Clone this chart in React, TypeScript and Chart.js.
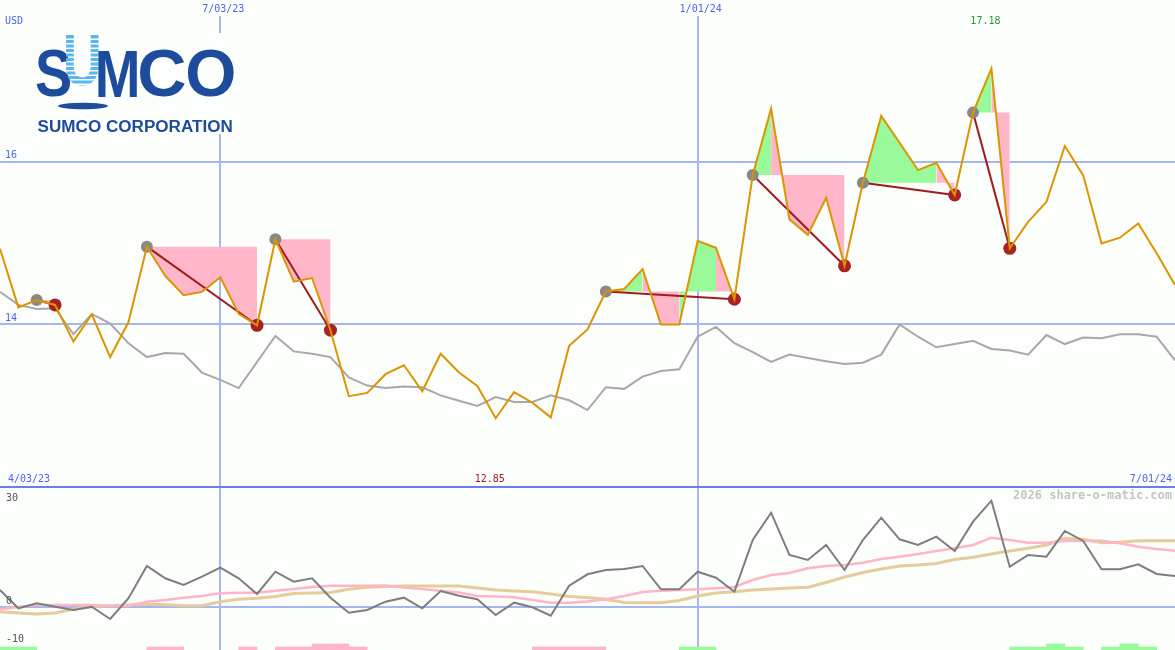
import React, { useEffect, useRef } from "react";
import { Chart, registerables } from "chart.js";

Chart.register(...registerables);

// ---------- data (weekly, index 0 = first week shown) ----------
const PRICE = [
  14.93, 14.21, 14.3, 14.24, 13.79, 14.125, 13.6, 14.03, 14.955, 14.595,
  14.36, 14.4, 14.58, 14.13, 13.99, 15.045, 14.525, 14.57, 13.93, 13.12,
  13.16, 13.39, 13.5, 13.18, 13.64, 13.41, 13.245, 12.85, 13.17, 13.04,
  12.86, 13.74, 13.94, 14.405, 14.435, 14.68, 14.0, 14.0, 15.025, 14.94,
  14.31, 15.835, 16.65, 15.29, 15.1, 15.555, 14.72, 15.74, 16.56, 16.23,
  15.895, 15.985, 15.59, 16.6, 17.14, 14.935, 15.26, 15.505, 16.19, 15.83,
  14.995, 15.065, 15.24, 14.875, 14.485,
];

const INDEX_LINE = [
  14.4, 14.24, 14.19, 14.2, 13.88, 14.13, 14.01, 13.77, 13.6, 13.65,
  13.64, 13.41, 13.32, 13.22, 13.54, 13.86, 13.67, 13.64, 13.6, 13.35,
  13.25, 13.22, 13.24, 13.23, 13.13, 13.065, 13.0, 13.11, 13.05, 13.05,
  13.13, 13.07, 12.95, 13.23, 13.21, 13.36, 13.43, 13.45, 13.85, 13.97,
  13.77, 13.66, 13.54, 13.63, 13.59, 13.55, 13.515, 13.53, 13.63, 14.0,
  13.85, 13.72, 13.76, 13.8, 13.7, 13.68, 13.63, 13.87, 13.76, 13.84,
  13.83, 13.88, 13.88, 13.85, 13.56,
];

const MOMENTUM = [
  4.55, -0.26, 1.05, 0.16, -0.71, 0.16, -3.08, 2.37, 10.87, 7.63,
  5.87, 8.05, 10.42, 7.63, 3.5, 9.37, 6.74, 7.63, 2.53, -1.42,
  -0.71, 1.47, 2.53, -0.26, 4.29, 3.05, 2.11, -2.03, 1.21, 0.0,
  -2.21, 5.68, 8.68, 9.82, 10.08, 10.87, 4.74, 4.74, 9.37, 7.79,
  4.11, 17.71, 24.89, 13.76, 12.45, 16.39, 9.82, 17.71, 23.58, 17.89,
  16.39, 18.58, 14.82, 22.53, 28.05, 10.68, 13.76, 13.32, 20.08, 17.45,
  10.0, 10.0, 11.32, 8.76, 8.24,
];

const MA_FAST = [
  -0.53, 0.08, 0.61, 0.61, 0.61, 0.61, 0.34, 0.34, 1.47, 1.92,
  2.53, 2.97, 3.68, 3.84, 3.84, 4.37, 4.82, 5.34, 5.68, 5.68,
  5.68, 5.74, 5.21, 4.82, 4.37, 3.89, 2.97, 2.84, 2.63, 1.92,
  1.21, 1.21, 1.53, 2.11, 2.97, 4.03, 4.37, 4.55, 4.74, 5.0,
  5.34, 7.18, 8.5, 9.03, 10.26, 10.87, 11.13, 11.74, 12.71, 13.32,
  14.03, 14.82, 15.53, 16.39, 18.32, 17.71, 17.0, 17.0, 17.45, 17.53,
  17.53, 16.84, 15.95, 15.34, 14.89,
];

const MA_SLOW = [
  -1.16, -1.5, -1.76, -1.5, -0.53, 0.16, 0.42, 0.61, 0.79, 0.68,
  0.42, 0.42, 1.47, 2.11, 2.37, 2.84, 3.63, 3.76, 3.89, 4.74,
  5.26, 5.47, 5.61, 5.61, 5.61, 5.61, 5.08, 4.55, 4.29, 4.11,
  3.5, 2.84, 2.58, 2.11, 1.26, 1.21, 1.21, 1.79, 2.97, 3.76,
  4.11, 4.55, 4.82, 5.08, 5.26, 6.53, 7.97, 9.16, 10.08, 10.87,
  11.13, 11.53, 12.58, 13.16, 14.03, 14.82, 15.53, 16.39, 18.16, 17.89,
  17.0, 17.11, 17.53, 17.53, 17.53,
];

// one entry per week-to-week interval: +n green, -n pink
const BAR_SIGNAL = [
  1, 1, 0, 0, 0, 0, 0, 0, -1, -1,
  0, 0, 0, -1, 0, -1, -1, -2, -2, -1,
  0, 0, 0, 0, 0, 0, 0, 0, 0, -1,
  -1, -1, -1, 0, 0, 0, 0, 1, 1, 0,
  0, 0, 0, 0, 0, 0, 0, 0, 0, 0,
  0, 0, 0, 0, 0, 1, 1, 2, 1, 0,
  1, 2, 1, 0,
];

const ENTRY_IDX = [2, 8, 15, 33, 41, 47, 53];
const EXIT_IDX = [3, 14, 18, 40, 46, 52, 55];

const GRID_WEEKS = [12, 38];
const GRID_LABELS = ["7/03/23", "1/01/24"];
const PRICE_GRID = [14, 16];
const OSC_GRID = [0];
const OSC_TICKS = [30, 0, -10];
const START_LABEL = "4/03/23";
const END_LABEL = "7/01/24";
const HIGH_LABEL = "17.18";
const LOW_LABEL = "12.85";
const CURRENCY = "USD";
const COMPANY = "SUMCO CORPORATION";
const WATERMARK = "2026 share-o-matic.com";

// ---------- layout / style ----------
const W = 1175;
const TOP_H = 486;
const BOT_H = 164;
const TOP_MIN = 12.018;
const TOP_MAX = 17.982;
const BOT_MIN = -11.24;
const BOT_MAX = 31.92;
const BAR_UNIT = 0.8;

const BG = "#fcfefc";
const GRID = "#a6b6f0";
const SEP = "#6c7ce8";
const BLUE_TXT = "#4f62f0";
const ORANGE = "#dc9400";
const GRAY_IDX = "#a8a8a8";
const GREEN_FILL = "#98fa98";
const PINK_FILL = "#ffb6c8";
const TRADE = "#a01a1e";
const RED_DOT = "#a82222";
const GRAY_DOT = "#888888";
const LOGO_BLUE = "#1d4c9c";
const LOGO_LIGHT = "#5ab6ee";
const MONO = "'DejaVu Sans Mono', monospace";
const LOGO_FONT = "'Liberation Sans', Arial, sans-serif";

const pts = (arr: number[]) => arr.map((v, i) => ({ x: i, y: v }));

function buildFills() {
  const out: any[] = [];
  ENTRY_IDX.forEach((en, t) => {
    const ex = EXIT_IDX[t];
    const level = PRICE[en];
    const push = (s: number, e: number, color: string) => {
      const data = [];
      for (let i = s; i <= e; i++) data.push({ x: i, y: PRICE[i] });
      out.push({
        type: "line",
        data,
        fill: { value: level },
        backgroundColor: color,
        borderColor: "rgba(0,0,0,0)",
        borderWidth: 0,
        pointRadius: 0,
        order: 10,
      });
    };
    let runStart = en;
    let runColor: string | null = null;
    for (let j = en; j < ex; j++) {
      const c = PRICE[j + 1] >= level ? GREEN_FILL : PINK_FILL;
      if (runColor === null) runColor = c;
      else if (c !== runColor) {
        push(runStart, j, runColor);
        runStart = j;
        runColor = c;
      }
    }
    push(runStart, ex, runColor as string);
  });
  return out;
}

function fitGlyph(ctx: CanvasRenderingContext2D, text: string, x0: number, y0: number, x1: number, y1: number) {
  const m = ctx.measureText(text);
  const gw = m.actualBoundingBoxLeft + m.actualBoundingBoxRight;
  const gh = m.actualBoundingBoxAscent + m.actualBoundingBoxDescent;
  ctx.save();
  ctx.translate(x0, y0);
  ctx.scale((x1 - x0) / gw, (y1 - y0) / gh);
  ctx.fillText(text, m.actualBoundingBoxLeft, m.actualBoundingBoxAscent);
  ctx.restore();
}

function drawLogo(ctx: CanvasRenderingContext2D) {
  ctx.save();
  ctx.fillStyle = BG;
  ctx.fillRect(22, 33, 226, 101);
  ctx.textAlign = "left";
  ctx.textBaseline = "alphabetic";
  ctx.font = `bold 100px ${LOGO_FONT}`;
  ctx.fillStyle = LOGO_BLUE;
  fitGlyph(ctx, "S", 36, 50, 70, 97);

  // striped light-blue U, drawn on its own layer
  const off = document.createElement("canvas");
  off.width = 40;
  off.height = 56;
  const o = off.getContext("2d") as CanvasRenderingContext2D;
  o.textAlign = "left";
  o.textBaseline = "alphabetic";
  o.font = `bold 100px ${LOGO_FONT}`;
  o.fillStyle = LOGO_LIGHT;
  fitGlyph(o, "U", 2, 2, 35, 53);
  o.globalCompositeOperation = "destination-out";
  for (let y = 5.5; y < 54; y += 4.5) o.fillRect(0, y, 40, 1.5);
  ctx.drawImage(off, 64, 33);

  ctx.fillStyle = LOGO_BLUE;
  fitGlyph(ctx, "M", 98, 50, 137, 97);
  fitGlyph(ctx, "C", 140, 50, 185, 97);
  fitGlyph(ctx, "O", 188, 50, 234, 97);
  ctx.beginPath();
  ctx.ellipse(83, 106, 25, 3.2, 0, 0, Math.PI * 2);
  ctx.fill();
  ctx.font = `bold 40px ${LOGO_FONT}`;
  fitGlyph(ctx, COMPANY, 38, 121, 232, 132);
  ctx.restore();
}

const topDecor = {
  id: "topDecor",
  beforeDatasetsDraw(chart: any) {
    const { ctx, scales } = chart;
    const x = scales.x;
    const y = scales.y;
    ctx.save();
    ctx.strokeStyle = GRID;
    ctx.lineWidth = 2;
    PRICE_GRID.forEach((v) => {
      const py = Math.round(y.getPixelForValue(v));
      ctx.beginPath();
      ctx.moveTo(0, py);
      ctx.lineTo(W, py);
      ctx.stroke();
    });
    GRID_WEEKS.forEach((w) => {
      const px = Math.round(x.getPixelForValue(w));
      ctx.beginPath();
      ctx.moveTo(px, 16);
      ctx.lineTo(px, TOP_H);
      ctx.stroke();
    });
    ctx.restore();
  },
  afterDraw(chart: any) {
    const { ctx, scales } = chart;
    const x = scales.x;
    const y = scales.y;
    ctx.save();
    drawLogo(ctx);
    ctx.font = `10px ${MONO}`;
    ctx.fillStyle = BLUE_TXT;
    ctx.textAlign = "left";
    ctx.textBaseline = "top";
    ctx.fillText(CURRENCY, 5, 16);
    ctx.textBaseline = "bottom";
    PRICE_GRID.forEach((v) => {
      ctx.fillText(String(v), 5, y.getPixelForValue(v) - 1);
    });
    ctx.textAlign = "center";
    ctx.textBaseline = "top";
    GRID_WEEKS.forEach((w, k) => {
      ctx.fillText(GRID_LABELS[k], x.getPixelForValue(w) + 3, 4);
    });
    ctx.textBaseline = "bottom";
    ctx.textAlign = "left";
    ctx.fillText(START_LABEL, 8, 484);
    ctx.textAlign = "right";
    ctx.fillText(END_LABEL, 1172, 484);
    const maxI = PRICE.indexOf(Math.max(...PRICE));
    const minI = PRICE.indexOf(Math.min(...PRICE));
    ctx.textAlign = "center";
    ctx.fillStyle = "#a01c1c";
    ctx.fillText(LOW_LABEL, x.getPixelForValue(minI) - 6, 484);
    ctx.fillStyle = "#2a982a";
    ctx.textBaseline = "top";
    ctx.fillText(HIGH_LABEL, x.getPixelForValue(maxI) - 6, 16);
    ctx.restore();
  },
};

const botDecor = {
  id: "botDecor",
  beforeDatasetsDraw(chart: any) {
    const { ctx, scales } = chart;
    const x = scales.x;
    const y = scales.y;
    ctx.save();
    ctx.strokeStyle = GRID;
    ctx.lineWidth = 2;
    OSC_GRID.forEach((v) => {
      const py = Math.round(y.getPixelForValue(v));
      ctx.beginPath();
      ctx.moveTo(0, py);
      ctx.lineTo(W, py);
      ctx.stroke();
    });
    GRID_WEEKS.forEach((w) => {
      const px = Math.round(x.getPixelForValue(w));
      ctx.beginPath();
      ctx.moveTo(px, 0);
      ctx.lineTo(px, BOT_H);
      ctx.stroke();
    });
    ctx.restore();
  },
  afterDraw(chart: any) {
    const { ctx, scales } = chart;
    const y = scales.y;
    ctx.save();
    ctx.strokeStyle = SEP;
    ctx.lineWidth = 2;
    ctx.beginPath();
    ctx.moveTo(0, 1);
    ctx.lineTo(W, 1);
    ctx.stroke();
    ctx.font = `10px ${MONO}`;
    ctx.fillStyle = "#555555";
    ctx.textAlign = "left";
    OSC_TICKS.forEach((v, k) => {
      const py = y.getPixelForValue(v);
      if (k === 0) {
        ctx.textBaseline = "top";
        ctx.fillText(String(v), 6, py);
      } else {
        ctx.textBaseline = "bottom";
        ctx.fillText(String(v), 6, py - 1);
      }
    });
    ctx.font = `bold 12px ${MONO}`;
    ctx.fillStyle = "#c4c4c4";
    ctx.textAlign = "right";
    ctx.textBaseline = "middle";
    ctx.fillText(WATERMARK, 1172, 10);
    ctx.restore();
  },
};

export default function App() {
  const topRef = useRef<HTMLCanvasElement | null>(null);
  const botRef = useRef<HTMLCanvasElement | null>(null);

  useEffect(() => {
    const common: any = {
      responsive: false,
      maintainAspectRatio: false,
      animation: false,
      events: [],
      layout: { padding: 0, autoPadding: false },
      plugins: { legend: { display: false }, tooltip: { enabled: false } },
    };

    const tradeLines = ENTRY_IDX.map((en, t) => ({
      type: "line",
      data: [
        { x: en, y: PRICE[en] },
        { x: EXIT_IDX[t], y: PRICE[EXIT_IDX[t]] },
      ],
      borderColor: TRADE,
      borderWidth: 2,
      pointRadius: 0,
      fill: false,
      order: 3,
    }));

    const top = new Chart(topRef.current as HTMLCanvasElement, {
      type: "line",
      data: {
        datasets: [
          { data: pts(PRICE), borderColor: ORANGE, borderWidth: 2, pointRadius: 0, fill: false, order: 0 },
          {
            data: EXIT_IDX.map((i) => ({ x: i, y: PRICE[i] })),
            showLine: false,
            pointRadius: 6.5,
            pointBackgroundColor: RED_DOT,
            pointBorderWidth: 0,
            order: 1,
          },
          {
            data: ENTRY_IDX.map((i) => ({ x: i, y: PRICE[i] })),
            showLine: false,
            pointRadius: 6,
            pointBackgroundColor: GRAY_DOT,
            pointBorderWidth: 0,
            order: 2,
          },
          ...tradeLines,
          { data: pts(INDEX_LINE), borderColor: GRAY_IDX, borderWidth: 2, pointRadius: 0, fill: false, order: 5 },
          ...buildFills(),
        ] as any,
      },
      options: {
        ...common,
        scales: {
          x: { type: "linear", min: 0, max: PRICE.length - 1, offset: false, display: false },
          y: { type: "linear", min: TOP_MIN, max: TOP_MAX, display: false },
        },
      },
      plugins: [topDecor],
    } as any);

    const greenBars: any[] = [];
    const pinkBars: any[] = [];
    BAR_SIGNAL.forEach((s, k) => {
      if (s === 0) return;
      const item = { x: k + 0.5, y: [BOT_MIN, BOT_MIN + Math.abs(s) * BAR_UNIT] };
      (s > 0 ? greenBars : pinkBars).push(item);
    });

    const bot = new Chart(botRef.current as HTMLCanvasElement, {
      type: "line",
      data: {
        datasets: [
          { data: pts(MOMENTUM), borderColor: "#7e7e7e", borderWidth: 2, pointRadius: 0, fill: false, order: 0 },
          { data: pts(MA_FAST), borderColor: "#ffb4c8", borderWidth: 2.5, pointRadius: 0, fill: false, order: 1 },
          { data: pts(MA_SLOW), borderColor: "#e6cc9a", borderWidth: 3, pointRadius: 0, fill: false, order: 2 },
          {
            type: "bar",
            data: greenBars,
            backgroundColor: GREEN_FILL,
            borderWidth: 0,
            grouped: false,
            barPercentage: 1,
            categoryPercentage: 1,
            order: 3,
          },
          {
            type: "bar",
            data: pinkBars,
            backgroundColor: PINK_FILL,
            borderWidth: 0,
            grouped: false,
            barPercentage: 1,
            categoryPercentage: 1,
            order: 3,
          },
        ] as any,
      },
      options: {
        ...common,
        scales: {
          x: { type: "linear", min: 0, max: MOMENTUM.length - 1, offset: false, grid: { offset: false }, display: false },
          y: { type: "linear", min: BOT_MIN, max: BOT_MAX, display: false },
        },
      },
      plugins: [botDecor],
    } as any);

    return () => {
      top.destroy();
      bot.destroy();
    };
  }, []);

  return (
    <div style={{ position: "absolute", left: 0, top: 0, width: W, height: TOP_H + BOT_H, background: BG, overflow: "hidden" }}>
      <canvas ref={topRef} width={W} height={TOP_H} style={{ position: "absolute", left: 0, top: 0, width: W, height: TOP_H }} />
      <canvas ref={botRef} width={W} height={BOT_H} style={{ position: "absolute", left: 0, top: TOP_H, width: W, height: BOT_H }} />
    </div>
  );
}
